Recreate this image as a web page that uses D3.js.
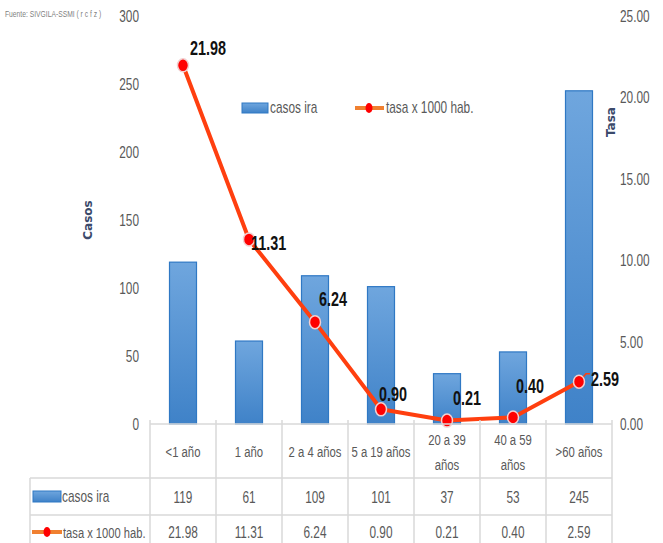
<!DOCTYPE html>
<html>
<head>
<meta charset="utf-8">
<script src="https://cdn.jsdelivr.net/npm/d3@7"></script>
<style>
  body { margin: 0; background: #ffffff; }
  svg { display: block; }
  .narrow { font-family: "Liberation Sans", "Arial", sans-serif; }
</style>
</head>
<body>
<div id="chart"></div>
<script>
// Data
const categories = ["<1 año", "1 año", "2 a 4 años", "5 a 19 años", "20 a 39 años", "40 a 59 años", ">60 años"];
const categoryLines = [["<1 año"], ["1 año"], ["2 a 4 años"], ["5 a 19 años"], ["20 a 39", "años"], ["40 a 59", "años"], [">60 años"]];
const casos = [119, 61, 109, 101, 37, 53, 245];
const tasa = [21.98, 11.31, 6.24, 0.90, 0.21, 0.40, 2.59];
const leftTicks = [0, 50, 100, 150, 200, 250, 300];
const rightTicks = [0, 5, 10, 15, 20, 25];

// label placement relative to each point (dx, dy), like the hand-moved labels
const labelOffsets = [[7, -18], [2, 3], [4, -24], [-2, -16], [6, -24], [3, -32], [12, -4]];

var width = 663;
var height = 543;
var margin = { top: 16, left: 150, right: 51, bottom: 119 };
var lineColor = "#ff3f0f";
var dotColor = "#ff0000";
var tickColor = "#595959";
var gridColor = "#d9d9d9";
var squeeze = 0.74; // the reference uses a narrow font

var svg = d3.select("#chart").append("svg")
    .attr("width", width)
    .attr("height", height);

var defs = svg.append("defs");
var grad = defs.append("linearGradient")
    .attr("id", "barGrad")
    .attr("x1", 0).attr("y1", 0).attr("x2", 0).attr("y2", 1);
grad.append("stop").attr("offset", "0%").attr("stop-color", "#6fa6de");
grad.append("stop").attr("offset", "100%").attr("stop-color", "#3f82c8");

// squeeze text horizontally to mimic a condensed face
function condense(sel, f) {
    sel.each(function () {
        var t = d3.select(this);
        var tx = +t.attr("x") || 0;
        var ty = +t.attr("y") || 0;
        t.attr("x", 0).attr("y", 0)
            .attr("transform", `translate(${tx},${ty}) scale(${f},1)`);
    });
}

const x = d3.scaleBand()
    .domain(categories)
    .range([margin.left, width - margin.right])
    .paddingInner(0)
    .paddingOuter(0);

const yLeft = d3.scaleLinear()
    .domain([0, 300])
    .range([height - margin.bottom, margin.top]);

const yRight = d3.scaleLinear()
    .domain([0, 25])
    .range([height - margin.bottom, margin.top]);

// source note
svg.append("text")
    .attr("class", "narrow")
    .attr("x", 5)
    .attr("y", 17)
    .attr("font-size", 9)
    .attr("fill", "#7f7f7f")
    .text("Fuente: SIVGILA-SSMI  ( r c f z )")
    .call(condense, 0.75);

// left axis
svg.append("g")
    .attr("transform", `translate(${margin.left - 11},0)`)
    .call(d3.axisLeft(yLeft).tickValues(leftTicks).tickSize(0).tickPadding(0).tickFormat(d3.format("d")))
    .call(g => g.select(".domain").remove())
    .call(g => g.selectAll("text")
        .attr("class", "narrow")
        .attr("font-family", "Liberation Sans, Arial, sans-serif")
        .attr("font-size", 16)
        .attr("fill", tickColor)
        .call(condense, squeeze));

// right axis
svg.append("g")
    .attr("transform", `translate(${width - 43},0)`)
    .call(d3.axisRight(yRight).tickValues(rightTicks).tickSize(0).tickPadding(0).tickFormat(d3.format(".2f")))
    .call(g => g.select(".domain").remove())
    .call(g => g.selectAll("text")
        .attr("class", "narrow")
        .attr("font-family", "Liberation Sans, Arial, sans-serif")
        .attr("font-size", 16)
        .attr("fill", tickColor)
        .call(condense, squeeze));

// axis titles
svg.append("text")
    .attr("transform", `translate(92,${yLeft(150)}) rotate(-90)`)
    .attr("text-anchor", "middle")
    .attr("font-family", "DejaVu Sans, sans-serif")
    .attr("font-weight", "bold")
    .attr("font-size", 12)
    .attr("fill", "#3b4a6b")
    .text("Casos");

svg.append("text")
    .attr("transform", `translate(615,${yRight(18.5)}) rotate(-90)`)
    .attr("text-anchor", "middle")
    .attr("font-family", "DejaVu Sans, sans-serif")
    .attr("font-weight", "bold")
    .attr("font-size", 12)
    .attr("fill", "#3b4a6b")
    .text("Tasa");

// bars
const barW = 27;
svg.append("g")
    .selectAll("rect")
    .data(casos)
    .join("rect")
    .attr("x", (d, i) => x(categories[i]) + x.bandwidth() / 2 - barW / 2)
    .attr("y", d => yLeft(d))
    .attr("width", barW)
    .attr("height", d => yLeft(0) - yLeft(d))
    .attr("fill", "url(#barGrad)")
    .attr("stroke", "#2f78c4")
    .attr("stroke-width", 1.2);

// line
const cx = (d, i) => x(categories[i]) + x.bandwidth() / 2;
const line = d3.line()
    .x(cx)
    .y(d => yRight(d));

// leader line to the last label
var last = tasa.length - 1;
svg.append("path")
    .attr("fill", "none")
    .attr("stroke", lineColor)
    .attr("stroke-width", 1.5)
    .attr("d", `M${cx(tasa[last], last)},${yRight(tasa[last])} L${cx(tasa[last], last) + 7},${yRight(tasa[last]) - 8} L${cx(tasa[last], last) + 11},${yRight(tasa[last]) - 8}`);

svg.append("path")
    .datum(tasa)
    .attr("fill", "none")
    .attr("stroke", lineColor)
    .attr("stroke-width", 4)
    .attr("stroke-linejoin", "round")
    .attr("d", line);

svg.append("g")
    .selectAll("ellipse")
    .data(tasa)
    .join("ellipse")
    .attr("cx", cx)
    .attr("cy", d => yRight(d))
    .attr("rx", 5.5)
    .attr("ry", 6.5)
    .attr("fill", dotColor)
    .attr("stroke", "#f2d0d0")
    .attr("stroke-width", 1.5);

// data labels
svg.append("g")
    .selectAll("text")
    .data(tasa)
    .join("text")
    .attr("class", "narrow")
    .attr("x", (d, i) => cx(d, i) + labelOffsets[i][0])
    .attr("y", (d, i) => yRight(d) + labelOffsets[i][1] + 8)
    .attr("font-size", 20)
    .attr("font-weight", "bold")
    .attr("fill", "#111111")
    .text(d => d3.format(".2f")(d))
    .call(condense, 0.72);

// legend
var legend = svg.append("g").attr("class", "narrow");
legend.append("rect")
    .attr("x", 242).attr("y", 103).attr("width", 26).attr("height", 10)
    .attr("fill", "url(#barGrad)").attr("stroke", "#2f78c4");
legend.append("text")
    .attr("x", 270).attr("y", 113)
    .attr("font-size", 16).attr("fill", tickColor).text("casos ira")
    .call(condense, squeeze);
legend.append("line")
    .attr("x1", 355).attr("x2", 384).attr("y1", 108).attr("y2", 108)
    .attr("stroke", "#f08030").attr("stroke-width", 4);
legend.append("ellipse")
    .attr("cx", 369).attr("cy", 108).attr("rx", 3.5).attr("ry", 5).attr("fill", dotColor);
legend.append("text")
    .attr("x", 386).attr("y", 113)
    .attr("font-size", 16).attr("fill", tickColor).text("tasa x 1000 hab.")
    .call(condense, squeeze);

// data table under the chart
var y0 = yLeft(0);
var rowTop = [y0, 478, 515];
var rowBottom = 560;
var tableLeft = 30;
var table = svg.append("g");

// horizontal lines
table.append("line")
    .attr("x1", x.range()[0]).attr("x2", x.range()[1])
    .attr("y1", y0).attr("y2", y0)
    .attr("stroke", gridColor).attr("stroke-width", 1.5);
[rowTop[1], rowTop[2]].forEach(yy => {
    table.append("line")
        .attr("x1", tableLeft).attr("x2", x.range()[1])
        .attr("y1", yy).attr("y2", yy)
        .attr("stroke", gridColor).attr("stroke-width", 1.5);
});
// vertical lines
var bounds = categories.map(c => x(c)).concat([x.range()[1]]);
table.selectAll(".vline")
    .data(bounds)
    .join("line")
    .attr("x1", d => d).attr("x2", d => d)
    .attr("y1", y0 - 4).attr("y2", rowBottom)
    .attr("stroke", gridColor).attr("stroke-width", 1.5);
table.append("line")
    .attr("x1", tableLeft).attr("x2", tableLeft)
    .attr("y1", rowTop[1]).attr("y2", rowBottom)
    .attr("stroke", gridColor).attr("stroke-width", 1.5);

// header row (categories)
var header = table.append("g").attr("class", "narrow");
categoryLines.forEach((lines, i) => {
    var mid = (rowTop[0] + rowTop[1]) / 2 + 6;
    lines.forEach((ln, j) => {
        header.append("text")
            .attr("x", x(categories[i]) + x.bandwidth() / 2)
            .attr("y", mid + (j - (lines.length - 1) / 2) * 25)
            .attr("text-anchor", "middle")
            .attr("font-size", 15.5)
            .attr("fill", tickColor)
            .text(ln)
            .call(condense, 0.73);
    });
});

// casos row
table.append("g").attr("class", "narrow")
    .selectAll("text")
    .data(casos)
    .join("text")
    .attr("x", (d, i) => x(categories[i]) + x.bandwidth() / 2)
    .attr("y", (rowTop[1] + rowTop[2]) / 2 + 6)
    .attr("text-anchor", "middle")
    .attr("font-size", 16)
    .attr("fill", tickColor)
    .text(d => d)
    .call(condense, squeeze);

// tasa row
table.append("g").attr("class", "narrow")
    .selectAll("text")
    .data(tasa)
    .join("text")
    .attr("x", (d, i) => x(categories[i]) + x.bandwidth() / 2)
    .attr("y", 538)
    .attr("text-anchor", "middle")
    .attr("font-size", 16)
    .attr("fill", tickColor)
    .text(d => d3.format(".2f")(d))
    .call(condense, squeeze);

// row headers with legend keys
var rh = table.append("g").attr("class", "narrow");
rh.append("rect")
    .attr("x", 33).attr("y", 491).attr("width", 28).attr("height", 11)
    .attr("fill", "url(#barGrad)").attr("stroke", "#2f78c4");
rh.append("text")
    .attr("x", 62).attr("y", 502)
    .attr("font-size", 16).attr("fill", tickColor).text("casos ira")
    .call(condense, squeeze);
rh.append("line")
    .attr("x1", 32).attr("x2", 62).attr("y1", 532).attr("y2", 532)
    .attr("stroke", "#f08030").attr("stroke-width", 4);
rh.append("ellipse")
    .attr("cx", 47).attr("cy", 532).attr("rx", 3.5).attr("ry", 5).attr("fill", dotColor);
rh.append("text")
    .attr("x", 63).attr("y", 538)
    .attr("font-size", 15.5).attr("fill", tickColor).text("tasa x 1000 hab.")
    .call(condense, 0.72);
</script>
</body>
</html>
